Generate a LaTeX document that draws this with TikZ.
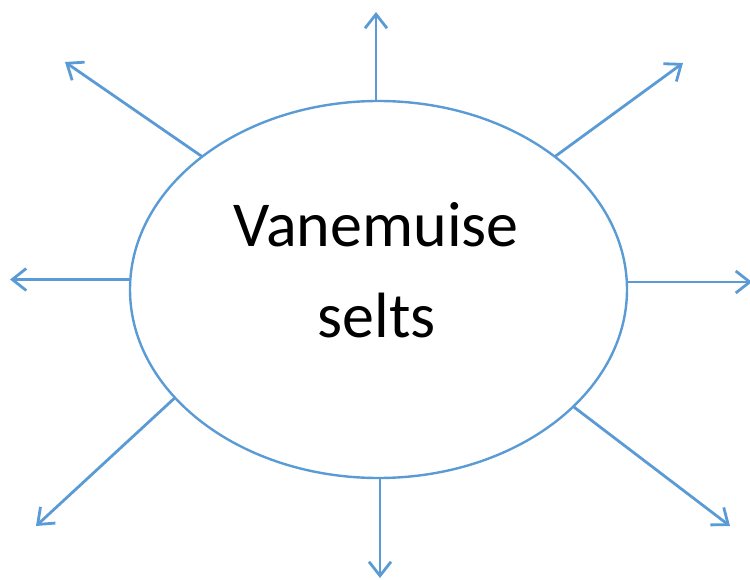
\documentclass[tikz,border=0pt]{standalone}
\usepackage{fontspec}
\setmainfont{Carlito}
\usetikzlibrary{arrows.meta,shapes.geometric}
\definecolor{officeblue}{HTML}{5B9BD5}
\tikzset{
  ring/.style={draw=officeblue, line width=2.4pt, ellipse, inner sep=0pt, outer sep=0pt, minimum width=497pt, minimum height=377pt},
  ray/.style={draw=officeblue, line width=2.8pt, -{Straight Barb[length=14pt, width=22pt, line width=2.8pt]}},
  lbl/.style={inner sep=0pt, anchor=base, font=\fontsize{64}{90}\selectfont}
}
\begin{document}
\begin{tikzpicture}[x=1pt, y=-1pt]
\useasboundingbox (0,0) rectangle (750,580);
\node[ring] (e) at (378.5,289.5) {};
\node[lbl] (l1) at (376,247) {Vanemuise};
\node[lbl] (l2) at (376.5,337) {selts};
\coordinate (tN) at (376,12);
\coordinate (tNW) at (65,62);
\coordinate (tNE) at (683,63);
\coordinate (tW) at (10,279.5);
\coordinate (tE) at (752,282);
\coordinate (tSW) at (36,526);
\coordinate (tS) at (380,578);
\coordinate (tSE) at (730,526);
\draw[ray] (e.north -| tN) -- (tN);
\draw[ray] (e.143.4) -- (tNW);
\draw[ray] (e.37.4) -- (tNE);
\draw[ray] (e.west |- tW) -- (tW);
\draw[ray] (e.east |- tE) -- (tE);
\draw[ray] (e.208.6) -- (tSW);
\draw[ray] (e.south -| tS) -- (tS);
\draw[ray] (e.-31.2) -- (tSE);
\end{tikzpicture}
\end{document}
